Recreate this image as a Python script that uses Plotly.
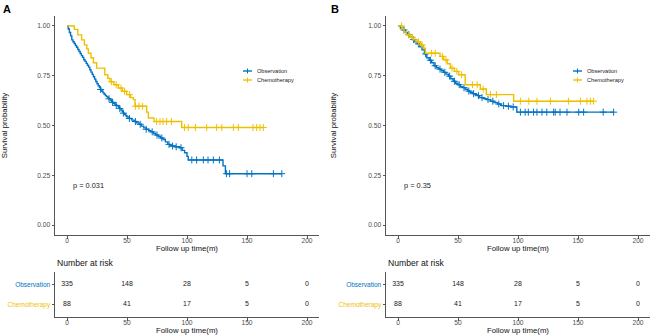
import plotly.graph_objects as go

W, H = 650, 335
BLUE = "#0073C2"
YELLOW = "#EFC000"
AXC = "#555555"
FONT = "Liberation Sans, Arial, sans-serif"

# ---------------- data ----------------
groups = ["Observation", "Chemotherapy"]

# Panel A - Observation
a_obs_t = [0, 1, 2, 3, 4, 5, 6, 7, 8, 9, 10, 11, 12, 13, 14, 15, 16, 17, 18, 19, 20,
           21, 22, 23, 24, 25, 26, 27, 28, 29, 30, 31, 32, 33, 34, 35, 36, 37, 38, 39, 40,
           41, 42, 43, 44, 45, 46, 47, 48, 49, 50, 52, 54, 56, 58, 60, 62, 64, 66, 68, 70,
           72, 74, 76, 78, 80, 82, 84, 86, 90, 94, 96, 98, 100, 101, 130, 132, 179]
a_obs_s = [1.000, 0.985, 0.967, 0.950, 0.930, 0.921, 0.912, 0.902, 0.893, 0.882, 0.872,
           0.862, 0.851, 0.842, 0.830, 0.822, 0.812, 0.803, 0.793, 0.780, 0.768,
           0.757, 0.745, 0.733, 0.721, 0.710, 0.700, 0.690, 0.681, 0.672, 0.664,
           0.657, 0.650, 0.645, 0.639, 0.634, 0.628, 0.622, 0.616, 0.611, 0.606,
           0.601, 0.598, 0.592, 0.585, 0.577, 0.569, 0.562, 0.555, 0.549, 0.543,
           0.535, 0.527, 0.520, 0.513, 0.506, 0.497, 0.488, 0.481, 0.474, 0.468,
           0.460, 0.452, 0.445, 0.437, 0.430, 0.418, 0.405, 0.397, 0.393, 0.388,
           0.375, 0.363, 0.345, 0.327, 0.297, 0.258, 0.258]
a_obs_cens = [28, 35, 38, 41, 44, 47, 52, 57, 61, 66, 71, 75, 79, 85, 88, 91, 95,
              104, 108, 113.6, 117.5, 122, 127, 133, 135.5, 150, 154, 172, 179]

# Panel A - Chemotherapy
a_che_t = [0, 6.1, 9.0, 12.2, 14.5, 16.5, 17.8, 20, 22, 24.7, 31.5, 34, 35.8, 39, 42.8,
           46, 49.7, 53, 55.3, 56.7, 66.4, 67.8, 72.5, 95.6, 163.6]
a_che_s = [1.000, 0.983, 0.955, 0.930, 0.905, 0.885, 0.863, 0.840, 0.815, 0.788, 0.755,
           0.737, 0.720, 0.705, 0.688, 0.672, 0.655, 0.640, 0.630, 0.597, 0.567, 0.538,
           0.520, 0.490, 0.490]
a_che_cens = [37, 41, 45, 48, 52, 57, 60, 63, 74.7, 77.5, 80, 83, 87, 98, 101, 107,
              116.4, 124.7, 129, 138.6, 142.8, 155, 158, 160.8, 163.6]

# Panel B - Observation
b_obs_t = [0, 2, 4, 6, 8, 10, 12, 14, 16, 18, 20, 22, 24, 26, 28, 30, 32, 34, 36, 38,
           40, 42, 44, 46, 48, 50, 52, 54, 56, 58, 60, 62, 64, 66, 68, 71, 74, 77, 80,
           83, 86, 90, 94, 99, 179.7]
b_obs_s = [1.000, 0.990, 0.980, 0.968, 0.957, 0.945, 0.932, 0.920, 0.910, 0.895, 0.880,
           0.860, 0.840, 0.828, 0.815, 0.800, 0.790, 0.783, 0.775, 0.767, 0.758, 0.748,
           0.735, 0.722, 0.712, 0.705, 0.695, 0.690, 0.682, 0.673, 0.667, 0.660, 0.655,
           0.650, 0.640, 0.635, 0.630, 0.622, 0.615, 0.608, 0.600, 0.597, 0.593, 0.567,
           0.567]
b_obs_cens = [5, 9, 13, 17, 23, 27, 31, 35, 39, 43, 47, 51, 55, 59, 63, 67, 70, 75, 79,
              84, 88, 92, 96, 102, 106, 108.6, 113, 115.8, 120, 124, 129.7, 131, 135,
              140.8, 150.6, 154.7, 171, 179.7]

# Panel B - Chemotherapy
b_che_t = [0, 3.3, 5, 7, 10.3, 13, 15.8, 18.6, 21.4, 22.8, 35, 38, 41, 43.6, 47, 50.5,
           56, 68.6, 73.6, 96.4, 163]
b_che_s = [1.000, 0.985, 0.970, 0.955, 0.943, 0.930, 0.920, 0.905, 0.888, 0.863, 0.847,
           0.830, 0.810, 0.788, 0.772, 0.755, 0.705, 0.683, 0.655, 0.622, 0.622]
b_che_cens = [3, 9, 12, 17, 20, 28, 31, 37, 40, 45, 49, 53, 62, 66, 71, 77, 82, 102,
              109, 115.8, 127, 142, 152, 157.5, 160.3, 163]

risk_times = [0, 50, 100, 150, 200]
risk_obs = [335, 148, 28, 5, 0]
risk_che = [88, 41, 17, 5, 0]

pvals = ["p = 0.031", "p = 0.35"]
y_ticks = [0, 0.25, 0.5, 0.75, 1.0]
x_ticks = [0, 50, 100, 150, 200]


def surv_at(t, times, surv):
    val = surv[0]
    for ti, si in zip(times, surv):
        if ti <= t:
            val = si
        else:
            break
    return val


def px(x):
    return x / W


def py(y):
    return 1 - y / H


fig = go.Figure()

panels = [
    ("x", "y", a_obs_t, a_obs_s, a_obs_cens, a_che_t, a_che_s, a_che_cens),
    ("x2", "y2", b_obs_t, b_obs_s, b_obs_cens, b_che_t, b_che_s, b_che_cens),
]
for xa, ya, ot, os_, oc, ct, cs, cc in panels:
    for t, s, c, col in [(ot, os_, oc, BLUE), (ct, cs, cc, YELLOW)]:
        fig.add_trace(go.Scatter(x=t, y=s, mode="lines", line=dict(color=col, width=1.4, shape="hv"),
                                 xaxis=xa, yaxis=ya, showlegend=False, hoverinfo="skip"))
        fig.add_trace(go.Scatter(x=c, y=[surv_at(v, t, s) for v in c], mode="markers",
                                 marker=dict(symbol="cross-thin", size=5, line=dict(width=1, color=col), color=col),
                                 xaxis=xa, yaxis=ya, showlegend=False, hoverinfo="skip"))

# risk tables
for xa, ya in [("x3", "y3"), ("x4", "y4")]:
    fig.add_trace(go.Scatter(x=risk_times, y=[2] * len(risk_times), mode="text",
                             text=[str(v) for v in risk_obs], textfont=dict(size=7, color="#222", family=FONT),
                             xaxis=xa, yaxis=ya, showlegend=False, hoverinfo="skip"))
    fig.add_trace(go.Scatter(x=risk_times, y=[1] * len(risk_times), mode="text",
                             text=[str(v) for v in risk_che], textfont=dict(size=7, color="#222", family=FONT),
                             xaxis=xa, yaxis=ya, showlegend=False, hoverinfo="skip"))

common_axis = dict(showline=True, linecolor=AXC, linewidth=1, ticks="outside", ticklen=2.5,
                   tickcolor=AXC, tickwidth=1, showgrid=False, zeroline=False,
                   tickfont=dict(size=6.7, color="#4D4D4D", family=FONT))

xA = (px(55), px(319))
xB = (px(386), px(650))
yMain = (py(235), py(16))
yRisk = (py(317), py(272))

xtitle = dict(text="Follow up time(m)", font=dict(size=7.8, color="#111", family=FONT), standoff=0)

layout = dict(
    width=W, height=H, margin=dict(l=0, r=0, t=0, b=0),
    plot_bgcolor="white", paper_bgcolor="white", font=dict(family=FONT),
    showlegend=False,
)
for name, dom, anchor in [("xaxis", xA, "y"), ("xaxis2", xB, "y2"),
                          ("xaxis3", xA, "y3"), ("xaxis4", xB, "y4")]:
    layout[name] = dict(common_axis, domain=dom, range=[-10, 210], tickvals=x_ticks,
                        anchor=anchor, title=xtitle, automargin=False, ticklabelstandoff=-4)
for name, anchor in [("yaxis", "x"), ("yaxis2", "x2")]:
    layout[name] = dict(common_axis, domain=yMain, range=[-0.05, 1.05], tickvals=y_ticks,
                        tickformat=".2f", anchor=anchor, automargin=False,
                        title=dict(text="Survival probability", font=dict(size=7.8, color="#111", family=FONT),
                                   standoff=30))
risk_ticktext = ['<span style="color:%s">%s</span>' % (BLUE, groups[0]),
                 '<span style="color:%s">%s</span>' % (YELLOW, groups[1])]
for name, anchor in [("yaxis3", "x3"), ("yaxis4", "x4")]:
    layout[name] = dict(common_axis, domain=yRisk, range=[0.4, 2.6], tickvals=[2, 1],
                        ticktext=risk_ticktext, anchor=anchor, automargin=False,
                        tickfont=dict(size=6.5, family=FONT))

fig.update_layout(**layout)

ann = []
# panel tags
ann.append(dict(text="<b>A</b>", x=px(1), y=py(9), xref="paper", yref="paper", xanchor="left",
                yanchor="middle", showarrow=False, font=dict(size=11, color="black", family=FONT)))
ann.append(dict(text="<b>B</b>", x=px(329), y=py(9), xref="paper", yref="paper", xanchor="left",
                yanchor="middle", showarrow=False, font=dict(size=11, color="black", family=FONT)))
# p-values
for (xa, ya), p in zip([("x", "y"), ("x2", "y2")], pvals):
    ann.append(dict(text=p, x=3.5, y=0.2, xref=xa, yref=ya, xanchor="left", yanchor="middle",
                    showarrow=False, font=dict(size=7.4, color="#222", family=FONT)))
# Number at risk titles
for xl in [55, 386]:
    ann.append(dict(text="Number at risk", x=px(xl), y=py(263), xref="paper", yref="paper",
                    xanchor="left", yanchor="middle", showarrow=False,
                    font=dict(size=8.6, color="#111", family=FONT)))

# legends (drawn manually, compact like the reference)
shapes = []
for lx in [243, 573]:
    for gy, col, g in [(71, BLUE, groups[0]), (80, YELLOW, groups[1])]:
        shapes.append(dict(type="line", xref="paper", yref="paper", x0=px(lx), x1=px(lx + 9),
                           y0=py(gy), y1=py(gy), line=dict(color=col, width=1.4)))
        shapes.append(dict(type="line", xref="paper", yref="paper", x0=px(lx + 4.5), x1=px(lx + 4.5),
                           y0=py(gy - 2.5), y1=py(gy + 2.5), line=dict(color=col, width=1)))
        ann.append(dict(text=g, x=px(lx + 12), y=py(gy), xref="paper", yref="paper", xanchor="left",
                        yanchor="middle", showarrow=False, font=dict(size=5.6, color="#222", family=FONT)))

fig.update_layout(annotations=ann, shapes=shapes)
fig.write_html("out.html", config={"displayModeBar": False},
               post_script="document.body.style.margin='0px';document.body.style.overflow='hidden';")
